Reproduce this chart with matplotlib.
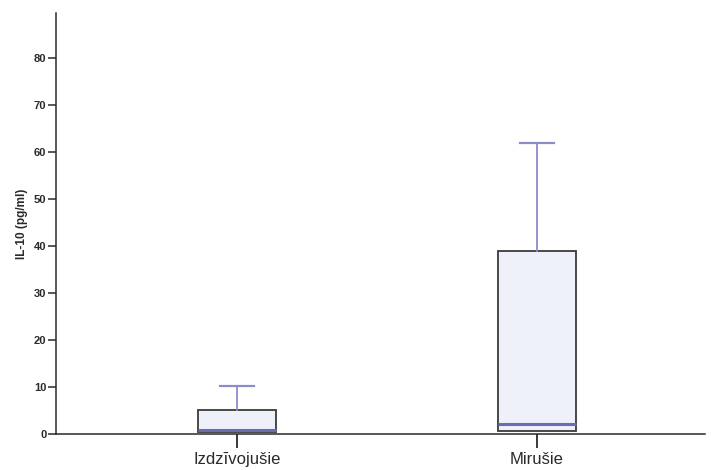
import matplotlib
matplotlib.use("Agg")
import matplotlib.pyplot as plt
from matplotlib import font_manager

matplotlib.rcParams.update({
    "font.family": ["Liberation Sans", "DejaVu Sans"],
})

# data (pg/ml)
groups = ["Izdzīvojušie", "Mirušie"]
q1 = [0.5, 0.6]
median = [0.9, 2.1]
q3 = [5.1, 38.9]
whis_lo = [0.5, 0.6]
whis_hi = [10.2, 61.9]
yticks = [0, 10, 20, 30, 40, 50, 60, 70, 80]

BOX_EDGE = "#3a3a3a"
BOX_FILL = "#eef0fa"
MED_COL = "#6a6cb4"
WHISK_COL = "#8c8cc8"
TXT = "#2a2a2a"

# regular-width bold Arial look-alike (avoid the Narrow variant)
bold_file = None
for f in font_manager.fontManager.ttflist:
    if f.name == "Liberation Sans" and f.weight in (700, "bold") \
            and f.style == "normal" and "Narrow" not in f.fname:
        bold_file = f.fname
        break
if bold_file:
    bold_tick = font_manager.FontProperties(fname=bold_file, size=8)
    bold_lab = font_manager.FontProperties(fname=bold_file, size=8.5)
else:
    bold_tick = font_manager.FontProperties(family="DejaVu Sans", weight="bold", size=7.5)
    bold_lab = font_manager.FontProperties(family="DejaVu Sans", weight="bold", size=8)

fig = plt.figure(figsize=(7.11, 4.70), dpi=100)
ax = fig.add_axes([0.0788, 0.0766, 0.9128, 0.8957])

stats = []
for i, g in enumerate(groups):
    stats.append({
        "label": g, "q1": q1[i], "med": median[i], "q3": q3[i],
        "whislo": whis_lo[i], "whishi": whis_hi[i], "fliers": [],
    })

bp = ax.bxp(stats, positions=[1, 2], widths=0.26, patch_artist=True,
            showfliers=False,
            boxprops=dict(facecolor=BOX_FILL, edgecolor=BOX_EDGE, linewidth=1.3),
            medianprops=dict(color=MED_COL, linewidth=2.2),
            whiskerprops=dict(color=WHISK_COL, linewidth=1.3),
            capprops=dict(color=WHISK_COL, linewidth=1.6),
            capwidths=0.115)
# no lower whiskers visible in the original
for line in bp["caps"][0::2] + bp["whiskers"][0::2]:
    line.set_visible(False)

ax.set_xlim(0.397, 2.56)
ax.set_ylim(0, 89.5)
ax.set_yticks(yticks)
ax.set_yticklabels([str(t) for t in yticks], fontproperties=bold_tick, color=TXT)
ax.set_xticks([1, 2])
ax.set_xticklabels(groups, fontsize=12, color=TXT)
ax.tick_params(axis="y", direction="out", length=6, width=1.1, pad=1, color=TXT)
ax.tick_params(axis="x", direction="out", length=10, width=1.3, pad=3, color=TXT)
ax.set_ylabel("IL-10 (pg/ml)", fontproperties=bold_lab, color=TXT, labelpad=4)

ax.spines[["top", "right"]].set_visible(False)
for s in ["left", "bottom"]:
    ax.spines[s].set_color(TXT)
    ax.spines[s].set_linewidth(1.1)

fig.savefig("out.png", dpi=100)
